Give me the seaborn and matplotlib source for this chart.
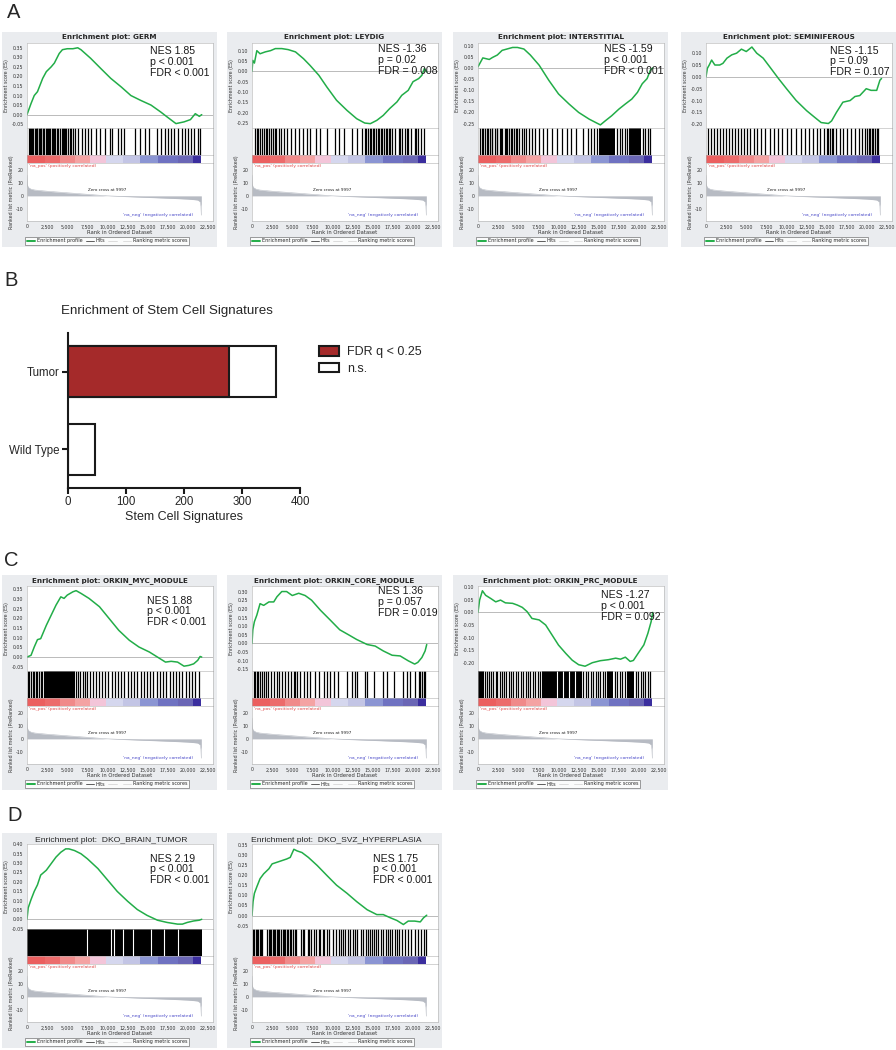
import numpy as np
import pandas as pd
import matplotlib.pyplot as plt
import seaborn as sns
from matplotlib.lines import Line2D
from matplotlib.patches import Rectangle, Patch
from matplotlib.ticker import MultipleLocator, FuncFormatter

sns.set_style("white")
plt.rcParams['font.family'] = ['DejaVu Sans']
plt.rcParams['axes.unicode_minus'] = False
ARIAL = ['Liberation Sans', 'DejaVu Sans']

# running enrichment scores: (rank in thousands, ES)
GERM = [(0, 0), (0.5, 0.058), (0.9, 0.10), (1.3, 0.12), (1.95, 0.19), (2.4, 0.225), (3.0, 0.25),
        (3.4, 0.27), (4.0, 0.32), (4.4, 0.34), (5.0, 0.345), (5.7, 0.345), (6.3, 0.35), (6.7, 0.34),
        (7.9, 0.295), (9.2, 0.24), (10.4, 0.19), (11.7, 0.145), (12.9, 0.10), (14.1, 0.075),
        (15.4, 0.05), (16.6, 0.014), (17.4, -0.012), (18.5, -0.047), (19.5, -0.038), (20.3, -0.026),
        (20.9, 0.005), (21.4, -0.009), (21.7, 0.0)]
LEYDIG = [(0, 0), (0.1, 0.053), (0.3, 0.04), (0.6, 0.10), (1.0, 0.085), (1.65, 0.094), (2.3, 0.10),
          (2.9, 0.11), (3.7, 0.11), (4.5, 0.105), (5.4, 0.094), (6.4, 0.061), (7.2, 0.029), (8.3, -0.019),
          (9.3, -0.076), (10.5, -0.14), (11.8, -0.189), (13.0, -0.229), (14.0, -0.25), (14.7, -0.253),
          (15.5, -0.237), (16.3, -0.213), (17.1, -0.18), (18.0, -0.148), (18.6, -0.116), (19.4, -0.092),
          (20.0, -0.05), (20.7, -0.035), (21.1, -0.019), (21.4, 0.013), (21.7, -0.003)]
INTERSTITIAL = [(0, 0.005), (0.33, 0.027), (0.6, 0.045), (1.4, 0.038), (1.8, 0.047), (2.4, 0.058),
                (3.0, 0.079), (3.6, 0.085), (4.3, 0.092), (4.9, 0.092), (5.7, 0.085), (6.5, 0.058),
                (7.6, 0.012), (8.8, -0.056), (10.0, -0.117), (11.3, -0.162), (12.5, -0.2), (13.8, -0.23),
                (14.6, -0.245), (15.2, -0.256), (15.8, -0.238), (16.6, -0.215), (17.5, -0.185),
                (18.3, -0.162), (19.1, -0.14), (19.8, -0.11), (20.4, -0.071), (21.0, -0.048),
                (21.4, -0.011), (21.7, 0.0)]
SEMINIFEROUS = [(0, 0), (0.17, 0.036), (0.4, 0.05), (0.7, 0.071), (1.1, 0.05), (1.7, 0.05), (2.1, 0.057),
                (2.6, 0.079), (3.2, 0.093), (3.8, 0.10), (4.4, 0.117), (5.0, 0.107), (5.7, 0.126),
                (6.3, 0.10), (7.1, 0.079), (7.9, 0.043), (9.0, -0.007), (10.0, -0.05), (11.2, -0.10),
                (12.5, -0.143), (13.5, -0.171), (14.3, -0.193), (15.2, -0.197), (15.6, -0.186),
                (16.2, -0.15), (17.0, -0.107), (17.9, -0.10), (18.5, -0.083), (19.1, -0.079),
                (19.9, -0.05), (20.5, -0.057), (21.2, -0.057), (21.6, -0.014), (21.8, -0.007)]
MYC = [(0, 0), (0.5, 0.009), (0.9, 0.052), (1.3, 0.09), (1.7, 0.095), (2.4, 0.164), (3.0, 0.216),
       (3.6, 0.268), (4.2, 0.311), (4.6, 0.303), (5.0, 0.32), (5.7, 0.337), (6.1, 0.343), (6.7, 0.329),
       (7.7, 0.303), (9.0, 0.26), (10.2, 0.199), (11.4, 0.138), (12.7, 0.087), (13.9, 0.052),
       (15.2, 0.026), (16.2, 0.0), (17.2, -0.026), (17.9, -0.022), (18.7, -0.026), (19.5, -0.047),
       (20.1, -0.043), (20.7, -0.035), (21.2, -0.017), (21.5, 0.003), (21.7, 0.0)]
CORE = [(0, 0), (0.1, 0.079), (0.3, 0.126), (0.6, 0.164), (1.0, 0.23), (1.45, 0.22), (2.1, 0.24),
        (2.7, 0.24), (3.1, 0.27), (3.7, 0.30), (4.3, 0.30), (5.0, 0.277), (5.8, 0.29), (6.6, 0.277),
        (7.4, 0.25), (8.5, 0.192), (9.7, 0.136), (10.9, 0.079), (12.0, 0.05), (13.0, 0.023),
        (14.3, -0.006), (15.3, -0.015), (16.3, -0.043), (17.4, -0.068), (18.4, -0.072), (19.4, -0.1),
        (20.2, -0.119), (20.6, -0.109), (21.1, -0.081), (21.5, -0.043), (21.7, -0.006)]
PRC = [(0, 0), (0.2, 0.049), (0.55, 0.086), (0.95, 0.068), (1.6, 0.055), (2.2, 0.042), (2.8, 0.049),
       (3.4, 0.038), (4.3, 0.036), (4.9, 0.029), (5.5, 0.02), (6.1, 0.003), (6.7, -0.024), (7.6, -0.03),
       (8.4, -0.05), (9.2, -0.09), (10.0, -0.13), (10.9, -0.163), (11.7, -0.19), (12.5, -0.208),
       (13.3, -0.214), (14.2, -0.2), (15.2, -0.192), (16.2, -0.188), (17.1, -0.182), (17.7, -0.186),
       (18.3, -0.178), (18.9, -0.195), (19.3, -0.191), (19.9, -0.162), (20.6, -0.129), (21.1, -0.083),
       (21.5, -0.037), (21.7, 0.0)]
BRAIN = [(0, 0), (0.15, 0.061), (0.5, 0.105), (0.9, 0.149), (1.3, 0.184), (1.7, 0.236), (2.4, 0.262),
         (3.0, 0.297), (3.6, 0.332), (4.2, 0.358), (4.8, 0.376), (5.2, 0.376), (5.9, 0.367), (6.7, 0.35),
         (7.5, 0.323), (8.8, 0.271), (10.0, 0.21), (11.2, 0.149), (12.5, 0.096), (13.7, 0.052),
         (14.9, 0.021), (16.2, -0.005), (17.4, -0.017), (18.7, -0.026), (19.3, -0.026), (19.9, -0.017),
         (20.7, -0.009), (21.4, -0.005), (21.7, 0.0)]
SVZ = [(0, 0), (0.13, 0.069), (0.3, 0.11), (0.6, 0.142), (1.0, 0.182), (1.45, 0.206), (2.1, 0.231),
       (2.5, 0.255), (3.1, 0.263), (3.7, 0.271), (4.3, 0.279), (4.75, 0.287), (5.2, 0.327), (5.6, 0.319),
       (6.2, 0.311), (7.0, 0.287), (8.1, 0.247), (9.3, 0.198), (10.5, 0.15), (11.8, 0.11), (13.0, 0.069),
       (14.3, 0.029), (15.5, 0.005), (16.3, 0.005), (17.2, -0.011), (18.0, -0.024), (18.8, -0.044),
       (19.4, -0.027), (20.2, -0.027), (20.9, -0.031), (21.3, -0.011), (21.7, 0.002)]

# gene-set hit positions (thousands), solid black runs, white gaps inside runs
GERM_HITS = [0.2, 0.35, 0.5, 0.65, 0.8, 0.95, 1.1, 1.2, 1.3, 1.45, 1.6, 1.7, 1.8, 2.0, 2.15, 2.3, 2.45,
             2.6, 2.75, 2.9, 3.05, 3.2, 3.4, 3.5, 3.7, 3.9, 4.1, 4.3, 4.45, 4.6, 4.75, 4.9, 5.1, 5.3, 5.5,
             5.75, 6.0, 6.35, 6.8, 7.2, 7.6, 8.0, 8.6, 9.05, 9.7, 10.3, 10.6, 11.3, 11.7, 12.1, 13.4, 14.0,
             14.6, 15.2, 16.1, 16.7, 17.1, 17.5, 17.9, 18.3, 18.75, 19.2, 19.6, 20.0, 20.4, 20.8, 21.2, 21.5]
LEYDIG_HITS = [0.4, 0.6, 0.8, 1.0, 1.2, 1.5, 1.7, 1.9, 2.1, 2.3, 2.6, 2.8, 3.0, 3.3, 3.6, 4.0, 4.4, 4.8,
               5.3, 5.8, 6.3, 6.8, 7.2, 7.9, 8.5, 9.3, 10.3, 10.8, 11.4, 12.4, 13.0, 13.6, 14.0, 14.2,
               14.4, 14.6, 14.8, 15.0, 15.2, 15.4, 15.6, 15.8, 16.0, 16.2, 16.4, 16.6, 16.8, 17.0, 17.2,
               17.4, 17.8, 18.2, 18.4, 18.6, 19.0, 19.2, 19.4, 19.8, 20.2, 20.4, 20.6, 21.0, 21.4]
INTER_HITS = [0.3, 0.5, 0.6, 0.9, 1.1, 1.2, 1.5, 1.7, 1.8, 2.1, 2.3, 2.4, 2.7, 2.9, 3.0, 3.3, 3.5, 3.6,
              3.9, 4.1, 4.2, 4.5, 4.7, 4.8, 5.1, 5.5, 5.7, 5.9, 6.3, 6.7, 7.1, 7.6, 8.1, 8.6, 9.2, 9.8,
              10.4, 11.0, 11.5, 12.2, 13.0, 13.6, 14.0, 14.4, 14.8, 17.3, 17.6, 17.9, 18.2, 18.5, 20.5,
              20.8, 21.1, 21.4]
INTER_RUNS = [(15.0, 17.0), (18.8, 20.2)]
SEMI_HITS = [0.2, 0.6, 1.0, 1.4, 1.8, 2.1, 2.5, 2.9, 3.2, 3.6, 4.0, 4.3, 4.7, 5.1, 5.5, 5.9, 6.3, 6.8,
             7.3, 7.9, 8.4, 8.9, 9.5, 10.0, 10.6, 11.2, 11.8, 12.3, 12.8, 13.3, 13.8, 14.2, 14.6, 15.0,
             15.2, 15.4, 15.6, 15.8, 16.2, 16.6, 17.0, 17.5, 18.0, 18.5, 19.0, 19.4, 19.8, 20.0, 20.2,
             20.4, 20.6, 20.8, 21.0, 21.2, 21.4]
MYC_HITS = [0.1, 0.3, 0.5, 0.7, 0.9, 1.1, 1.3, 1.5, 1.7, 1.9, 6.1, 6.3, 6.6, 6.9, 7.2, 7.5, 7.8, 8.2,
            8.6, 9.0, 9.3, 9.7, 10.1, 10.5, 10.9, 11.3, 11.7, 12.1, 12.5, 12.9, 13.3, 13.7, 14.1, 14.5,
            14.9, 15.3, 15.7, 16.1, 16.5, 16.9, 17.3, 17.7, 18.1, 18.5, 18.9, 19.3, 19.7, 20.1, 20.5,
            20.9, 21.3]
MYC_RUNS = [(2.1, 5.9)]
CORE_HITS = [0.2, 0.4, 0.6, 0.8, 1.0, 1.2, 1.5, 1.7, 2.0, 2.3, 2.7, 3.1, 3.4, 3.7, 4.1, 4.5, 4.8, 5.2,
             5.4, 5.6, 6.0, 6.4, 6.8, 7.2, 7.8, 8.3, 8.9, 9.3, 9.7, 10.2, 10.7, 11.8, 12.4, 12.8, 13.0,
             14.0, 14.3, 15.1, 16.3, 16.8, 17.6, 18.8, 19.2, 19.6, 20.3, 20.7, 20.9, 21.1, 21.3, 21.5]
PRC_HITS = [0.9, 1.1, 1.4, 1.6, 1.9, 2.2, 2.4, 2.7, 3.0, 3.2, 3.5, 3.8, 4.1, 4.4, 4.7, 5.0, 5.3, 5.6,
            5.9, 6.2, 6.5, 6.8, 7.1, 7.4, 7.7, 13.1, 13.4, 13.7, 14.0, 14.3, 14.6, 14.9, 15.2, 15.5,
            15.8, 17.0, 17.3, 17.6, 17.9, 18.2, 19.6, 19.9, 20.2, 20.5, 20.8, 21.1, 21.4]
PRC_RUNS = [(0, 0.7), (7.9, 12.9), (16.0, 16.8), (18.5, 19.4)]
PRC_GAPS = [9.8, 10.5, 11.3, 12.1]
BRAIN_RUNS = [(0, 21.7)]
BRAIN_GAPS = [7.4, 10.4, 10.8, 11.9, 13.2, 15.4, 17.0, 18.8]
SVZ_HITS = [0.1, 0.3, 0.45, 0.6, 0.8, 0.95, 1.1, 1.25, 1.9, 2.05, 2.2, 2.4, 2.55, 2.7, 2.9, 3.1, 3.25,
            3.4, 3.6, 3.8, 3.95, 4.1, 4.3, 4.5, 4.7, 4.9, 5.1, 5.3, 5.5, 6.1, 6.3, 6.5, 6.9, 7.1, 7.3,
            7.7, 7.9, 8.3, 8.5, 8.8, 9.0, 9.3, 9.6, 10.1, 10.4, 10.8, 11.0, 11.3, 11.5, 11.9, 12.2,
            12.5, 12.8, 13.1, 13.5, 13.8, 14.1, 14.4, 14.6, 14.9, 15.2, 15.4, 15.7, 16.0, 16.3, 16.6,
            16.9, 17.2, 17.4, 17.7, 18.0, 18.3, 18.6, 19.0, 19.4, 19.8, 20.2, 20.6, 21.0, 21.3, 21.6]

# ranked list metric (same list for all plots)
METRIC = [(0, 16), (0.03, 9), (0.15, 6.5), (0.5, 5.2), (1.0, 4.5), (2.5, 3.6), (5.0, 2.4), (7.5, 1.2),
          (9.997, 0), (12.5, -0.6), (15.0, -1.2), (17.5, -1.8), (20.0, -2.5), (21.2, -3.2),
          (21.5, -4.5), (21.6, -8), (21.65, -15)]
CBAR_EDGES = [0, 2.2, 4.1, 5.95, 7.8, 9.85, 11.9, 14.0, 16.25, 18.75, 20.6, 21.65]
XTICKS = [0, 2.5, 5.0, 7.5, 10.0, 12.5, 15.0, 17.5, 20.0, 22.5]

# panel B
GROUPS = ['Tumor', 'Wild Type']
TOTAL_SIGS = [358, 46]
FDR_SIGS = [278, 0]

# NES / p / FDR annotations
STATS_GERM = ['NES 1.85', 'p < 0.001', 'FDR < 0.001']
STATS_LEYDIG = ['NES -1.36', 'p = 0.02', 'FDR = 0.008']
STATS_INTER = ['NES -1.59', 'p < 0.001', 'FDR < 0.001']
STATS_SEMI = ['NES -1.15', 'p = 0.09', 'FDR = 0.107']
STATS_MYC = ['NES 1.88', 'p < 0.001', 'FDR < 0.001']
STATS_CORE = ['NES 1.36', 'p = 0.057', 'FDR = 0.019']
STATS_PRC = ['NES -1.27', 'p < 0.001', 'FDR = 0.092']
STATS_BRAIN = ['NES 2.19', 'p < 0.001', 'FDR < 0.001']
STATS_SVZ = ['NES 1.75', 'p < 0.001', 'FDR < 0.001']

# styles
CBAR_COLORS = ['#eb5f5f', '#ec6b6b', '#f08a8a', '#f4a3a3', '#f3c5d9', '#d5d7ee', '#c3c5e5',
               '#8b95d3', '#6f72c1', '#6a66b5', '#3b2e9e']
GREEN = '#22ad48'
FRAME = '#eaecef'
METRIC_GRAY = '#b7bbc3'
RED = '#a52a2a'
XLIM = (0, 23.1)

W, H, DPI = 896, 1050, 100
fig = plt.figure(figsize=(W / DPI, H / DPI), dpi=DPI)


def px_rect(left, top, width, height):
    return [left / W, 1 - (top + height) / H, width / W, height / H]


def fxy(x, y):
    return (x / W, 1 - y / H)


def es_fmt(v, _):
    return '0.00' if abs(v) < 1e-9 else f'{v:.2f}'


def style_axes(ax):
    for s in ax.spines.values():
        s.set_linewidth(0.4)
        s.set_color('#b0b0b0')
    ax.tick_params(labelsize=3.4, length=1.5, width=0.4, pad=1, colors='#333333')


def gsea(fx, fy, title, curve, ylim, hits=(), runs=(), gaps=(), stats=(), txt=(0.66, 9),
         plain=False, fh=215):
    fw = 215
    fig.add_artist(Rectangle(fxy(fx, fy + fh), fw / W, fh / H, transform=fig.transFigure,
                             facecolor=FRAME, edgecolor='none', zorder=-5))
    if plain:
        fig.text(*fxy(fx + fw / 2 + 2, fy + 7), title, ha='center', va='center',
                 fontsize=6.1, family=ARIAL)
    else:
        fig.text(*fxy(fx + fw / 2, fy + 5.5), title, ha='center', va='center',
                 fontsize=5.2, fontweight='bold')
    left, width = fx + 25, 186
    ax_es = fig.add_axes(px_rect(left, fy + 11, width, 85))
    ax_hit = fig.add_axes(px_rect(left, fy + 96, width, 27))
    ax_bar = fig.add_axes(px_rect(left, fy + 123, width, 8))
    ax_rk = fig.add_axes(px_rect(left, fy + 131, width, 58))

    d = pd.DataFrame(curve, columns=['rank', 'es'])
    ax_es.axhline(0, color='#a0a0a0', lw=0.5)
    sns.lineplot(data=d, x='rank', y='es', ax=ax_es, color=GREEN, lw=1.1,
                 estimator=None, sort=False, legend=False)
    ax_es.set_xlim(XLIM)
    ax_es.set_ylim(ylim)
    ax_es.yaxis.set_major_locator(MultipleLocator(0.05))
    ax_es.yaxis.set_major_formatter(FuncFormatter(es_fmt))
    ax_es.set_xticks([])
    ax_es.set_xlabel('')
    ax_es.set_ylabel('Enrichment score (ES)', fontsize=3.4, labelpad=1.5, color='#333333')
    style_axes(ax_es)
    ax_es.text(txt[0], 1 - (txt[1] - 5.5) / 85, '\n'.join(stats), transform=ax_es.transAxes,
               ha='left', va='top', fontsize=7.6, family=ARIAL, linespacing=1.12, color='#1a1a1a')

    if len(runs):
        for a, b in runs:
            ax_hit.axvspan(a, b, color='black', lw=0)
    if len(hits):
        ax_hit.vlines(hits, 0, 1, color='black', lw=0.9)
    if len(gaps):
        ax_hit.vlines(gaps, 0, 1, color='white', lw=0.8)
    ax_hit.set_xlim(XLIM)
    ax_hit.set_ylim(0, 1)
    ax_hit.set_xticks([])
    ax_hit.set_yticks([])
    style_axes(ax_hit)

    for a, b, c in zip(CBAR_EDGES[:-1], CBAR_EDGES[1:], CBAR_COLORS):
        ax_bar.axvspan(a, b, color=c, lw=0)
    ax_bar.set_xlim(XLIM)
    ax_bar.set_xticks([])
    ax_bar.set_yticks([])
    style_axes(ax_bar)

    m = pd.DataFrame(METRIC, columns=['rank', 'metric'])
    ax_rk.fill_between(m['rank'], 0, m['metric'], color=METRIC_GRAY, lw=0)
    sns.lineplot(data=m, x='rank', y='metric', ax=ax_rk, color=METRIC_GRAY, lw=0.4,
                 estimator=None, legend=False)
    ax_rk.set_xlim(XLIM)
    ax_rk.set_ylim(-19.5, 25.5)
    ax_rk.set_yticks([20, 10, 0, -10])
    ax_rk.set_xticks(XTICKS)
    ax_rk.set_xticklabels([f'{int(round(t * 1000)):,}' for t in XTICKS])
    ax_rk.set_xlabel('Rank in Ordered Dataset', fontsize=3.8, labelpad=0.5, color='#333333')
    ax_rk.set_ylabel('Ranked list metric (PreRanked)', fontsize=3.4, labelpad=1.5, color='#333333')
    style_axes(ax_rk)
    ax_rk.text(0.2, 25, "'na_pos' (positively correlated)", va='top', fontsize=3.2, color='#e04848')
    ax_rk.text(10.0, 4.5, 'Zero cross at 9997', ha='center', va='center', fontsize=3.0, color='#222222')
    ax_rk.text(20.6, -15, "'na_neg' (negatively correlated)", ha='right', va='center',
               fontsize=3.2, color='#4848c8')

    handles = [Line2D([], [], color=GREEN, lw=1.4), Line2D([], [], color='#444444', lw=0.6),
               Line2D([], [], color='#cfcfcf', lw=0.5), Line2D([], [], color='#d9d9d9', lw=0.6)]
    labels = ['Enrichment profile', 'Hits', ' ', 'Ranking metric scores']
    leg = fig.legend(handles, labels, loc='center', bbox_to_anchor=fxy(fx + 105, fy + 209), ncol=4,
                     fontsize=3.5, frameon=True, fancybox=False, edgecolor='#555555',
                     handlelength=1.7, handletextpad=0.3, columnspacing=0.7, borderpad=0.3)
    leg.get_frame().set_linewidth(0.5)


# panel letters
for letter, (x, y) in zip('ABCD', [(7, 3), (4, 271), (4, 551), (7, 806)]):
    fig.text(*fxy(x, y), letter, ha='left', va='top', fontsize=14.5, family=ARIAL)

# panel A
gsea(2, 32, 'Enrichment plot: GERM', GERM, (-0.07, 0.375), GERM_HITS, stats=STATS_GERM, txt=(0.66, 9))
gsea(227, 32, 'Enrichment plot: LEYDIG', LEYDIG, (-0.274, 0.137), LEYDIG_HITS,
     stats=STATS_LEYDIG, txt=(0.675, 7))
gsea(453, 32, 'Enrichment plot: INTERSTITIAL', INTERSTITIAL, (-0.27, 0.112), INTER_HITS, INTER_RUNS,
     stats=STATS_INTER, txt=(0.675, 7))
gsea(681, 32, 'Enrichment plot: SEMINIFEROUS', SEMINIFEROUS, (-0.216, 0.143), SEMI_HITS,
     stats=STATS_SEMI, txt=(0.665, 8))

# panel B
axb = fig.add_axes(px_rect(68, 333, 232, 155))
dfb = pd.DataFrame({'group': GROUPS, 'total': TOTAL_SIGS, 'fdr': FDR_SIGS})
sns.barplot(data=dfb, y='group', x='total', orient='h', color='white', edgecolor='#1a1a1a',
            linewidth=1.5, width=0.66, saturation=1, ax=axb)
sns.barplot(data=dfb[dfb['fdr'] > 0], y='group', x='fdr', orient='h', color=RED, edgecolor='#1a1a1a',
            linewidth=1.5, width=0.66, saturation=1, ax=axb)
axb.set_xlim(0, 400)
axb.set_ylim(1.5, -0.5)
axb.set_xticks([0, 100, 200, 300, 400])
axb.set_ylabel('')
axb.set_xlabel('Stem Cell Signatures', fontsize=9, family=ARIAL, labelpad=2)
sns.despine(ax=axb)
for s in ['left', 'bottom']:
    axb.spines[s].set_linewidth(1.5)
    axb.spines[s].set_color('#1a1a1a')
axb.tick_params(direction='out', length=4, width=1.5, labelsize=8.3, color='#1a1a1a', pad=2,
                left=True, bottom=True)
for lab in axb.get_xticklabels() + axb.get_yticklabels():
    lab.set_family(ARIAL)
fig.text(*fxy(167, 311), 'Enrichment of Stem Cell Signatures', ha='center', va='center',
         fontsize=9.6, family=ARIAL)
fig.legend([Patch(facecolor=RED, edgecolor='#1a1a1a', lw=1.5),
            Patch(facecolor='white', edgecolor='#1a1a1a', lw=1.5)],
           ['FDR q < 0.25', 'n.s.'], loc='upper left', bbox_to_anchor=fxy(308, 335), frameon=False,
           prop={'family': ARIAL, 'size': 9}, handlelength=1.6, handleheight=0.8,
           handletextpad=0.6, labelspacing=0.35)

# panel C
gsea(2, 575, 'Enrichment plot: ORKIN_MYC_MODULE', MYC, (-0.072, 0.367), MYC_HITS, MYC_RUNS,
     stats=STATS_MYC, txt=(0.645, 15))
gsea(227, 575, 'Enrichment plot: ORKIN_CORE_MODULE', CORE, (-0.159, 0.332), CORE_HITS,
     stats=STATS_CORE, txt=(0.675, 6))
gsea(453, 575, 'Enrichment plot: ORKIN_PRC_MODULE', PRC, (-0.233, 0.105), PRC_HITS, PRC_RUNS, PRC_GAPS,
     stats=STATS_PRC, txt=(0.66, 10))

# panel D
gsea(2, 833, 'Enrichment plot:  DKO_BRAIN_TUMOR', BRAIN, (-0.052, 0.402), runs=BRAIN_RUNS,
     gaps=BRAIN_GAPS, stats=STATS_BRAIN, txt=(0.66, 15), plain=True)
gsea(227, 833, 'Enrichment plot:  DKO_SVZ_HYPERPLASIA', SVZ, (-0.066, 0.353), SVZ_HITS,
     stats=STATS_SVZ, txt=(0.65, 15), plain=True)

fig.savefig('out.png', dpi=DPI)
